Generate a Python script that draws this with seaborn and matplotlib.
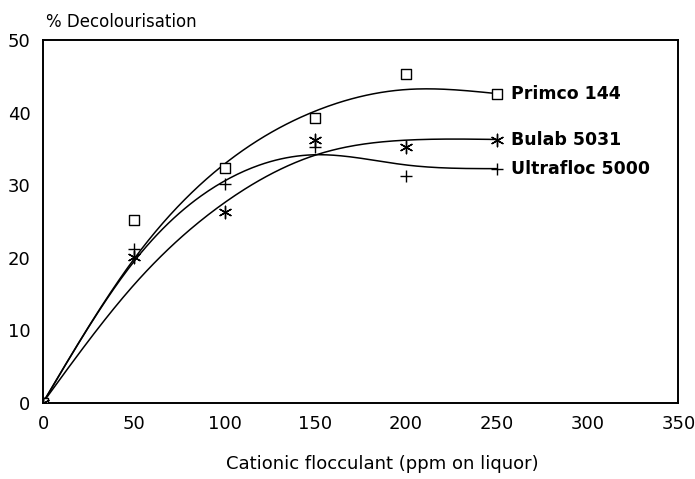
import numpy as np
import matplotlib
matplotlib.use('Agg')
import matplotlib.pyplot as plt
import seaborn as sns

# Values
dose = [0, 50, 100, 150, 200, 250]
primco = [0, 25.2, 32.4, 39.3, 45.4, 42.6]
bulab = [0, 20.1, 26.3, 36.3, 35.3, 36.3]
ultrafloc = [0, 21.2, 30.2, 35.3, 31.3, 32.3]

names = ['Primco 144', 'Bulab 5031', 'Ultrafloc 5000']
series = [primco, bulab, ultrafloc]
markers = ['s', (6, 2, 0), '+']
smoothing = [6e4, 6e4, 1.5e4]


def smooth_curve(xd, yd, lam):
    # penalised (smoothing-spline like) fit on a 1 ppm grid, ends held fixed
    grid = np.arange(0, max(xd) + 1)
    w = np.zeros(len(grid))
    t = np.zeros(len(grid))
    for x, y in zip(xd, yd):
        w[x] = 1.0
        t[x] = y
    w[0] = w[-1] = 50.0
    D = np.diff(np.eye(len(grid)), 2, axis=0)
    f = np.linalg.solve(np.diag(w) + lam * D.T @ D, w * t)
    return grid, f


sns.set_style('white')
plt.rcParams['font.family'] = ['DejaVu Sans']
plt.rcParams['text.color'] = 'black'
plt.rcParams['xtick.color'] = 'black'
plt.rcParams['ytick.color'] = 'black'

fig = plt.figure(figsize=(6.95, 4.79), dpi=100)
ax = fig.add_axes([0.062, 0.159, 0.914, 0.757])

for name, ys, mk, lam in zip(names, series, markers, smoothing):
    gx, gy = smooth_curve(dose, ys, lam)
    sns.lineplot(x=gx, y=gy, ax=ax, color='black', lw=1.1)
    if mk == 's':
        sns.scatterplot(x=dose, y=ys, ax=ax, marker='s', s=50, facecolor='white',
                        edgecolor='black', linewidth=1.0, zorder=3)
    else:
        sns.scatterplot(x=dose, y=ys, ax=ax, marker=mk, s=80, color='black',
                        linewidth=1.0, zorder=3)
    ax.text(258, ys[-1], name, fontsize=12.5, fontweight='bold', va='center', ha='left')

ax.set_xlim(0, 350)
ax.set_ylim(0, 50)
ax.set_xticks(range(0, 351, 50))
ax.set_yticks(range(0, 51, 10))
ax.tick_params(length=0, labelsize=13, pad=9)
for sp in ax.spines.values():
    sp.set_color('black')
    sp.set_linewidth(1.4)

ax.set_xlabel('')
ax.set_ylabel('')
fig.text(0.55, 0.031, 'Cationic flocculant (ppm on liquor)', fontsize=13, ha='center', va='center')
fig.text(0.066, 0.955, '% Decolourisation', fontsize=12, ha='left', va='center')

fig.savefig('out.png', dpi=100)
